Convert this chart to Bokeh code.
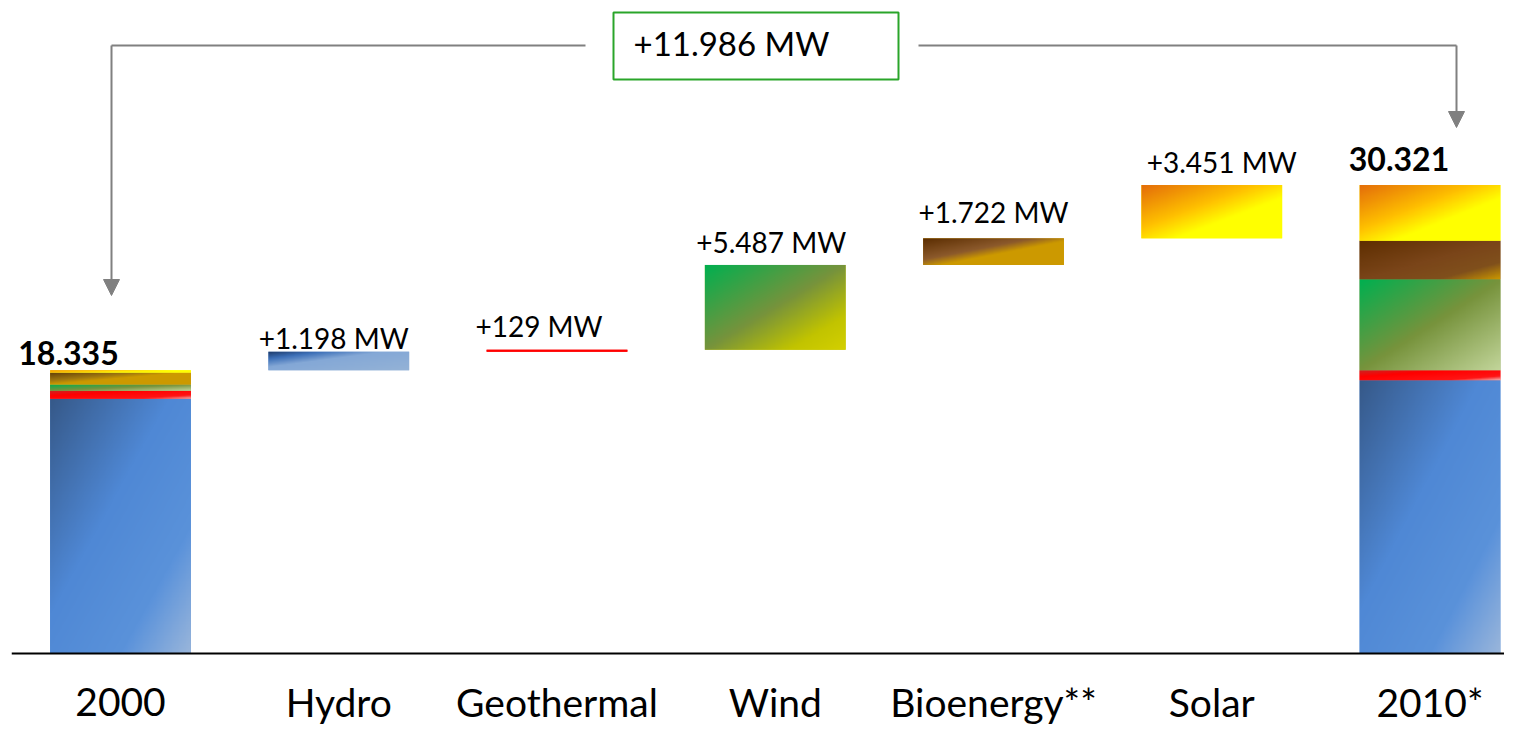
import numpy as np
from bokeh.plotting import figure
from bokeh.models import Range1d, Arrow, NormalHead, Span, ColumnDataSource
from bokeh.core.properties import value
from bokeh.embed import file_html
from bokeh.resources import INLINE

# ---------------- data (MW) ----------------
categories = ["2000", "Hydro", "Geothermal", "Wind", "Bioenergy**", "Solar", "2010*"]
sources = ["Hydro", "Geothermal", "Wind", "Bioenergy", "Solar"]
capacity_2000 = [16488, 515, 405, 772, 155]
increase_2000_2010 = [1198, 129, 5487, 1722, 3451]
total_2000 = 18335
total_2010 = 30321
total_increase = 11986

capacity_2010 = [a + b for a, b in zip(capacity_2000, increase_2000_2010)]


def mw(v):
    return f"{v:,}".replace(",", ".")


# ---------------- layout / style ----------------
W, H = 1504, 726
LEFT = 11
PX_PER_UNIT = 218.25          # px between categories
PX_PER_MW = 0.01545           # px per MW
BASE_Y = 653                  # pixel row of the zero line
BAR_W = 0.645
FONT = value("Lato")
GRAY = "#808080"
BL = 0.37                     # baseline correction (fraction of font size)


def dx(px):
    return (px - 120) / PX_PER_UNIT


def dy(py):
    return (BASE_Y - py) / PX_PER_MW


x_start = dx(LEFT)
x_end = dx(W)
y_start = dy(H)
y_end = dy(0)

grad_stack = {
    "Hydro": [(0, "#365989"), (0.42, "#4f88d5"), (0.75, "#5a92da"), (1, "#9ab6da")],
    "Geothermal": [(0, "#c42a2a"), (0.35, "#ff0000"), (0.8, "#ff1515"), (1, "#f0b5b5")],
    "Wind": [(0, "#00b050"), (0.5, "#77933c"), (1, "#c3d69b")],
    "Bioenergy": [(0, "#5e2e00"), (0.5, "#7a4519"), (0.78, "#80501c"), (1, "#cc9900")],
    "Solar": [(0, "#e46c0a"), (0.4, "#ffc000"), (0.62, "#ffff00"), (1, "#ffff00")],
}
grad_2000 = dict(grad_stack)
grad_2000["Bioenergy"] = [(0, "#5e3a08"), (0.35, "#a07810"), (0.5, "#cc9900"), (1, "#cc9900")]
grad_inc = {
    "Hydro": [(0, "#1c3866"), (0.2, "#3d70b8"), (0.42, "#84a8d6"), (1, "#95b3d7")],
    "Geothermal": [(0, "#ff0000"), (1, "#ff0000")],
    "Wind": [(0, "#00b050"), (0.5, "#77933c"), (0.8, "#c2c400"), (1, "#d4d000")],
    "Bioenergy": [(0, "#5a2c00"), (0.4, "#8c5a2c"), (0.56, "#cc9900"), (1, "#cc9900")],
    "Solar": grad_stack["Solar"],
}


def hex2rgb(h):
    h = h.lstrip("#")
    return [int(h[i:i + 2], 16) for i in (0, 2, 4)]


def grad_img(stops, nw=160, nh=160):
    u = np.linspace(0, 1, nw)[None, :]
    v = np.linspace(1, 0, nh)[:, None]      # row 0 is the bottom of the bar
    t = (u + v) / 2.0
    pos = [s[0] for s in stops]
    cols = np.array([hex2rgb(s[1]) for s in stops], dtype=float)
    img = np.empty((nh, nw), dtype=np.uint32)
    view = img.view(dtype=np.uint8).reshape((nh, nw, 4))
    for c in range(3):
        view[:, :, c] = np.interp(t, pos, cols[:, c]).astype(np.uint8)
    view[:, :, 3] = 255
    return img


# ---------------- segments ----------------
seg = dict(x=[], bottom=[], top=[], color=[], image=[], left=[], width=[], height=[])


def add_segment(x, bottom, height, stops):
    seg["x"].append(x)
    seg["bottom"].append(bottom)
    seg["top"].append(bottom + height)
    seg["color"].append(stops[len(stops) // 2][1])
    seg["image"].append(grad_img(stops))
    seg["left"].append(x - BAR_W / 2)
    seg["width"].append(BAR_W)
    seg["height"].append(height)


b = 0
for s, v in zip(sources, capacity_2000):
    add_segment(0, b, v, grad_2000[s])
    b += v

running = total_2000
inc_tops = []
for i, (s, v) in enumerate(zip(sources, increase_2000_2010)):
    add_segment(i + 1, running, v, grad_inc[s])
    running += v
    inc_tops.append(running)

b = 0
for s, v in zip(sources, capacity_2010):
    add_segment(6, b, v, grad_stack[s])
    b += v
top_2010 = b

src = ColumnDataSource(seg)

p = figure(width=W, height=H, output_backend="svg", toolbar_location=None,
           x_range=Range1d(x_start, x_end), y_range=Range1d(y_start, y_end),
           x_axis_location=None, y_axis_location=None,
           min_border_left=LEFT, min_border_right=0, min_border_top=0, min_border_bottom=0)
p.grid.visible = False
p.outline_line_color = None
p.background_fill_color = "white"
p.border_fill_color = "white"

p.vbar(x="x", bottom="bottom", top="top", width=BAR_W, fill_color="color",
       line_color=None, source=src)
p.image_rgba(image="image", x="left", y="bottom", dw="width", dh="height", source=src)

# baseline
p.add_layout(Span(location=0, dimension="width", line_color="black", line_width=2))

# category labels
p.text(x=list(range(len(categories))), y=[dy(716)] * len(categories), text=categories,
       y_offset=-BL * 39,
       text_font=FONT, text_font_size="39px", text_color="black",
       text_align="center", text_baseline="alphabetic")

# increment labels
inc_label_dx = [-5, -18, -4, 0, 10]
inc_label_dy = [-3, -13, -13, -16, -13]
p.text(x=list(range(1, 6)), y=inc_tops,
       text=["+" + mw(v) + " MW" for v in increase_2000_2010],
       x_offset=inc_label_dx, y_offset=[d - BL * 28 for d in inc_label_dy],
       text_font=FONT, text_font_size="28px", text_color="black",
       text_align="center", text_baseline="alphabetic")

# totals
p.text(x=[0, 6], y=[total_2000, top_2010], text=[mw(total_2000), mw(total_2010)],
       x_offset=[-52, -31], y_offset=[-5 - BL * 32, -14.5 - BL * 32],
       text_font=FONT, text_font_size="32px", text_font_style="bold",
       text_color="black", text_align="center", text_baseline="alphabetic")

# connector with arrows
y_link = dy(45)
xl, xr = dx(111), dx(1456)
p.line(x=[dx(585), xl], y=[y_link, y_link], line_color=GRAY, line_width=2)
p.line(x=[dx(918), xr], y=[y_link, y_link], line_color=GRAY, line_width=2)
p.add_layout(Arrow(x_start=xl, y_start=y_link, x_end=xl, y_end=dy(295),
                   line_color=GRAY, line_width=2,
                   end=NormalHead(size=16, fill_color=GRAY, line_color=GRAY)))
p.add_layout(Arrow(x_start=xr, y_start=y_link, x_end=xr, y_end=dy(127),
                   line_color=GRAY, line_width=2,
                   end=NormalHead(size=16, fill_color=GRAY, line_color=GRAY)))

# total increase box
p.quad(left=[dx(613)], right=[dx(898)], bottom=[dy(79)], top=[dy(12)],
       fill_color=None, line_color="#2aa52a", line_width=2)
p.text(x=[dx(633)], y=[dy(55)], text=["+" + mw(total_increase) + " MW"],
       y_offset=-BL * 33,
       text_font=FONT, text_font_size="33px", text_color="black",
       text_align="left", text_baseline="alphabetic")

open("out.html", "w").write(file_html(p, INLINE))
